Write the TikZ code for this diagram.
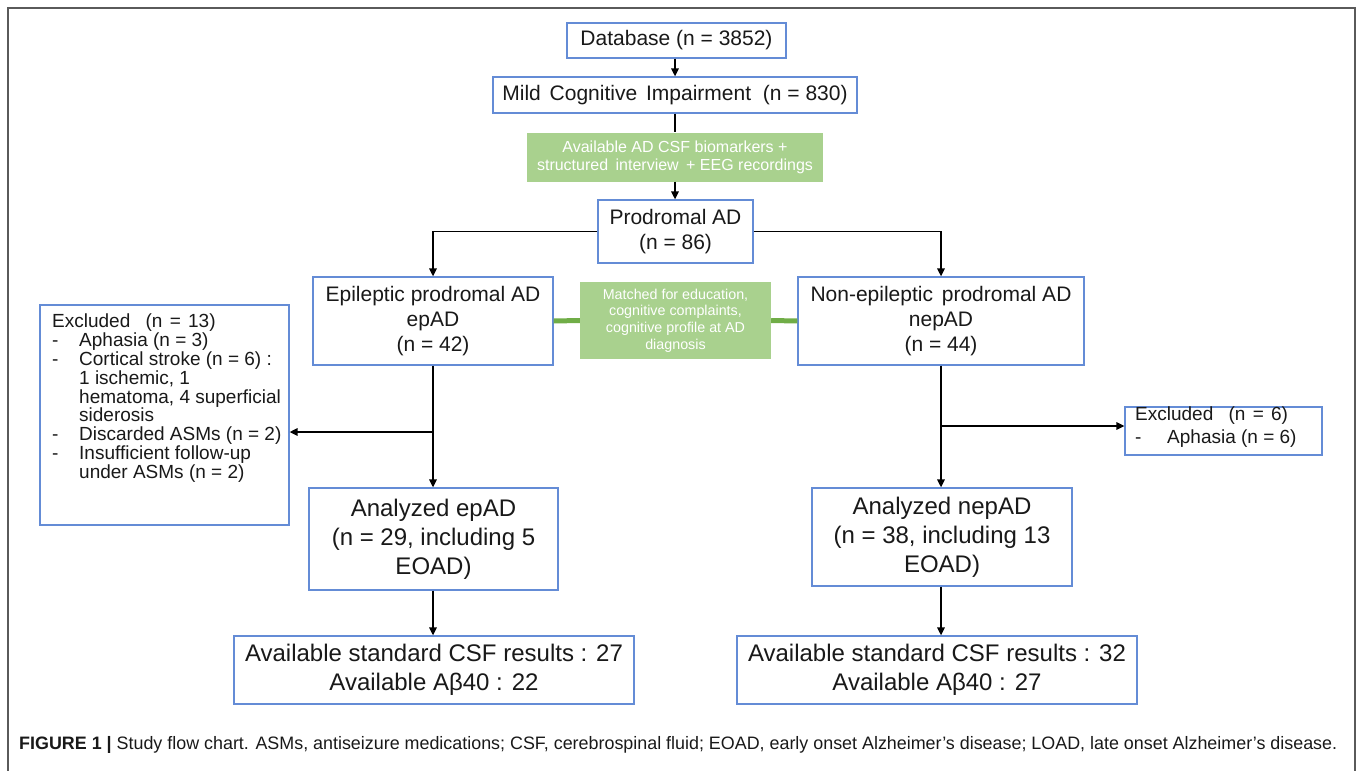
\documentclass[tikz,border=0pt]{standalone}
\usepackage{fontspec}
\setmainfont{Liberation Sans}
\usetikzlibrary{arrows.meta,calc}
\definecolor{boxblue}{RGB}{100,140,214}
\definecolor{lgreen}{RGB}{169,209,142}
\definecolor{dgreen}{RGB}{112,173,71}
\definecolor{txt}{RGB}{25,25,25}
\definecolor{frameg}{RGB}{90,90,90}
\begin{document}
\begin{tikzpicture}[x=1pt,y=-1pt,
  box/.style={draw=boxblue, line width=1.3pt, fill=white, inner sep=0pt, align=center, text=txt},
  gbox/.style={fill=lgreen, inner sep=0pt, align=center, text=white},
  arr/.style={line width=1.6pt, -{Triangle[length=8pt,width=7.5pt]}},
  ln/.style={line width=1.6pt},
  gline/.style={line width=5pt, draw=dgreen},
  fmain/.style={font=\fontsize{21}{25}\selectfont},
  fbig/.style={font=\fontsize{24}{29}\selectfont},
  fexc/.style={font=\fontsize{19}{18.8}\selectfont},
  fg1/.style={font=\fontsize{16}{18}\selectfont},
  fg2/.style={font=\fontsize{14.3}{16.7}\selectfont}]
\useasboundingbox (0,0) rectangle (1358,771);
% frame
\draw[frameg, line width=1.5pt] (8,771) -- (8,8) -- (1355,8) -- (1355,771);

% nodes
\node[box, fmain, minimum width=219pt, minimum height=35pt] (db) at (676.5,40.5) {Database (n = 3852)};
\node[box, fmain, minimum width=364pt, minimum height=36pt] (mci) at (675,95) {Mild\hspace{3pt} Cognitive\hspace{3pt} Impairment\hspace{6pt} (n = 830)};
\node[gbox, fg1, minimum width=296pt, minimum height=49pt] (g1) at (675,157) {Available AD CSF biomarkers +\\structured\hspace{3pt} interview\hspace{3pt} + EEG recordings};
\node[box, fmain, minimum width=155pt, minimum height=63pt] (prod) at (675.5,231.5) {Prodromal AD\\(n = 86)};
\node[box, fmain, minimum width=240pt, minimum height=88pt] (ep) at (433,321) {Epileptic prodromal AD\\epAD\\(n = 42)};
\node[gbox, fg2, minimum width=191pt, minimum height=77pt] (match) at (675.5,320.5) {Matched for education,\\cognitive complaints,\\cognitive profile at AD\\diagnosis};
\node[box, fmain, minimum width=286pt, minimum height=88pt] (nep) at (941,321) {Non-epileptic\hspace{3pt} prodromal AD\\nepAD\\(n = 44)};
\node[box, minimum width=249pt, minimum height=220pt] (exl) at (164.5,415) {};
\node[fexc, anchor=north west, align=left, inner sep=0pt, text=txt] (exltext) at (52,314) {Excluded\hspace{10pt} (n\hspace{2pt} =\hspace{2pt} 13)\\
\makebox[27pt][l]{-}Aphasia (n = 3)\\
\makebox[27pt][l]{-}Cortical stroke (n = 6) :\\
\hspace*{27pt}1 ischemic, 1\\
\hspace*{27pt}hematoma, 4 superficial\\
\hspace*{27pt}siderosis\\
\makebox[27pt][l]{-}Discarded ASMs (n = 2)\\
\makebox[27pt][l]{-}Insufficient follow-up\\
\hspace*{27pt}under ASMs (n = 2)};
\node[box, minimum width=197pt, minimum height=48pt] (exr) at (1223.5,431) {};
\node[fexc, anchor=north west, align=left, inner sep=0pt, text=txt, font=\fontsize{19}{23}\selectfont] (exrtext) at (1135,407) {Excluded\hspace{10pt} (n\hspace{2pt} =\hspace{2pt} 6)\\
\makebox[32pt][l]{-}Aphasia (n = 6)};
\node[box, fbig, minimum width=249pt, minimum height=102pt] (aep) at (433.5,539) {Analyzed epAD\\(n = 29, including 5\\EOAD)};
\node[box, fbig, minimum width=260pt, minimum height=98pt] (anep) at (942,537) {Analyzed nepAD\\(n = 38, including 13\\EOAD)};
\node[box, fbig, minimum width=400pt, minimum height=68pt] (csfl) at (434,670) {Available standard CSF results : 27\\Available Aβ40 : 22};
\node[box, fbig, minimum width=400pt, minimum height=68pt] (csfr) at (937,670) {Available standard CSF results : 32\\Available Aβ40 : 27};

% connectors
\draw[arr] (db.south -| 675,0) -- (mci.north -| 675,0);
\draw[ln] (mci.south -| 675,0) -- (g1.north -| 675,0);
\draw[arr] (g1.south -| 675,0) -- (prod.north -| 675,0);
\draw[arr] (prod.west) -| (ep.north);
\draw[arr] (prod.east) -| (nep.north);
\draw[gline] (ep.east) -- (match.west);
\draw[gline] (match.east) -- (nep.west);
\draw[arr] (ep.south) -- (ep.south |- aep.north);
\coordinate (bl) at (433,432);
\draw[arr] (bl) -- (bl -| exl.east);
\draw[arr] (aep.south -| 433,0) -- (csfl.north -| 433,0);
\draw[arr] (nep.south) -- (nep.south |- anep.north);
\coordinate (br) at (941,426);
\draw[arr] (br) -- (br -| exr.west);
\draw[arr] (anep.south -| 941,0) -- (csfr.north -| 941,0);

% caption
\node[anchor=west, inner sep=0pt, text=txt] (cap) at (19,745) {\resizebox{1318pt}{\height}{\fontsize{18}{20}\selectfont\textbf{FIGURE 1 |} Study flow chart. ASMs, antiseizure medications; CSF, cerebrospinal fluid; EOAD, early onset Alzheimer’s disease; LOAD, late onset Alzheimer’s disease.}};
\end{tikzpicture}
\end{document}
